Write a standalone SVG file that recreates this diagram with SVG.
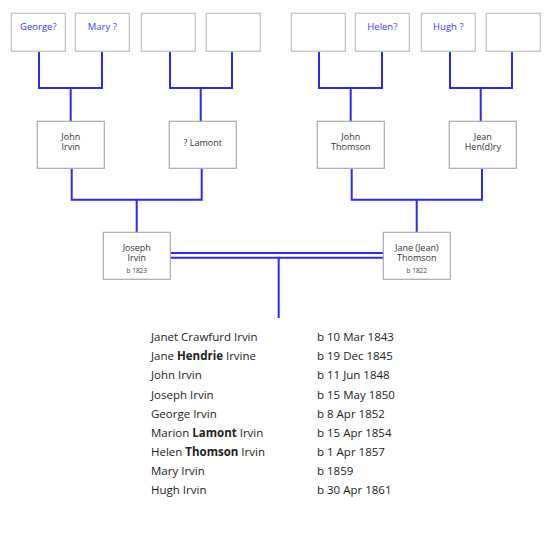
<svg xmlns="http://www.w3.org/2000/svg" width="551" height="535" viewBox="0 0 551 535">
<style>
.b1{fill:#fff;stroke:#c0c0c0;stroke-width:1.2}
.b2{fill:#fff;stroke:#aaa;stroke-width:1.2}
.c{fill:none;stroke:#2a2aff;stroke-width:2}
.q{font-family:"Open Sans","Noto Sans",sans-serif;font-size:9.5px;fill:#3a3aff;text-anchor:middle}
.n{font-family:"Open Sans","Noto Sans",sans-serif;font-size:9px;fill:#333;text-anchor:middle}
.s{font-family:"Open Sans","Noto Sans",sans-serif;font-size:6.5px;fill:#444;text-anchor:middle}
.l{font-family:"Open Sans","Noto Sans",sans-serif;font-size:11.5px;fill:#222}
.l tspan.k{font-weight:bold}
</style>
<rect width="551" height="535" fill="#fff"/>
<g id="connectors">
<path class="c" d="M39 51V88H102V51M70.7 88V121.3"/>
<path class="c" d="M170 51V88H232V51M200.7 88V121.3"/>
<path class="c" d="M319 51V88H382V51M350.7 88V121.3"/>
<path class="c" d="M450 51V88H512V51M480.7 88V121.3"/>
<path class="c" d="M71.7 168.3V199.7H201.7V168.3M136.7 199.7V232.3"/>
<path class="c" d="M351.7 168.3V199.7H482V168.3M416.7 199.7V232.3"/>
<path class="c" d="M170.3 253H383.3M170.3 257.7H383.3M278.7 257.7V318"/>
</g>
<g id="george"><rect class="b1" x="11.3" y="13.3" width="54" height="38"/><text class="q" x="38.3" y="30">George?</text></g>
<g id="mary"><rect class="b1" x="75.3" y="13.3" width="54" height="38"/><text class="q" x="102.3" y="30">Mary ?</text></g>
<g id="unknown1"><rect class="b1" x="141.3" y="13.3" width="54" height="38"/></g>
<g id="unknown2"><rect class="b1" x="206.3" y="13.3" width="54" height="38"/></g>
<g id="unknown3"><rect class="b1" x="291.3" y="13.3" width="54" height="38"/></g>
<g id="helen"><rect class="b1" x="355.3" y="13.3" width="54" height="38"/><text class="q" x="382.3" y="30">Helen?</text></g>
<g id="hugh"><rect class="b1" x="421.3" y="13.3" width="54" height="38"/><text class="q" x="448.3" y="30">Hugh ?</text></g>
<g id="unknown4"><rect class="b1" x="486.3" y="13.3" width="54" height="38"/></g>
<g id="john-irvin"><rect class="b2" x="37.3" y="121.3" width="67" height="47"/><text class="n" x="70.8" y="139.5">John</text><text class="n" x="70.8" y="149.5">Irvin</text></g>
<g id="lamont"><rect class="b2" x="169.3" y="121.3" width="67" height="47"/><text class="n" x="202.8" y="146">? Lamont</text></g>
<g id="john-thomson"><rect class="b2" x="317.3" y="121.3" width="67" height="47"/><text class="n" x="350.8" y="139.5">John</text><text class="n" x="350.8" y="149.5">Thomson</text></g>
<g id="jean-hendry"><rect class="b2" x="449.3" y="121.3" width="67" height="47"/><text class="n" x="482.8" y="139.5">Jean</text><text class="n" x="482.8" y="149.5">Hen(d)ry</text></g>
<g id="joseph-irvin"><rect class="b2" x="103.3" y="232.3" width="67" height="47"/><text class="n" x="136.8" y="250.5">Joseph</text><text class="n" x="136.8" y="260.5">Irvin</text><text class="s" x="136.8" y="272.5">b 1823</text></g>
<g id="jane-thomson"><rect class="b2" x="383.3" y="232.3" width="67" height="47"/><text class="n" x="416.8" y="250.5">Jane (Jean)</text><text class="n" x="416.8" y="260.5">Thomson</text><text class="s" x="416.8" y="272.5">b 1822</text></g>
<g id="children">
<text class="l" x="151" y="341">Janet Crawfurd Irvin</text>
<text class="l" x="151" y="360.2">Jane <tspan class="k">Hendrie</tspan> Irvine</text>
<text class="l" x="151" y="379.3">John Irvin</text>
<text class="l" x="151" y="398.5">Joseph Irvin</text>
<text class="l" x="151" y="417.6">George Irvin</text>
<text class="l" x="151" y="436.8">Marion <tspan class="k">Lamont</tspan> Irvin</text>
<text class="l" x="151" y="455.9">Helen <tspan class="k">Thomson</tspan> Irvin</text>
<text class="l" x="151" y="475.1">Mary Irvin</text>
<text class="l" x="151" y="494.2">Hugh Irvin</text>
<text class="l" x="317" y="341">b 10 Mar 1843</text>
<text class="l" x="317" y="360.2">b 19 Dec 1845</text>
<text class="l" x="317" y="379.3">b 11 Jun 1848</text>
<text class="l" x="317" y="398.5">b 15 May 1850</text>
<text class="l" x="317" y="417.6">b 8 Apr 1852</text>
<text class="l" x="317" y="436.8">b 15 Apr 1854</text>
<text class="l" x="317" y="455.9">b 1 Apr 1857</text>
<text class="l" x="317" y="475.1">b 1859</text>
<text class="l" x="317" y="494.2">b 30 Apr 1861</text>
</g>
</svg>
